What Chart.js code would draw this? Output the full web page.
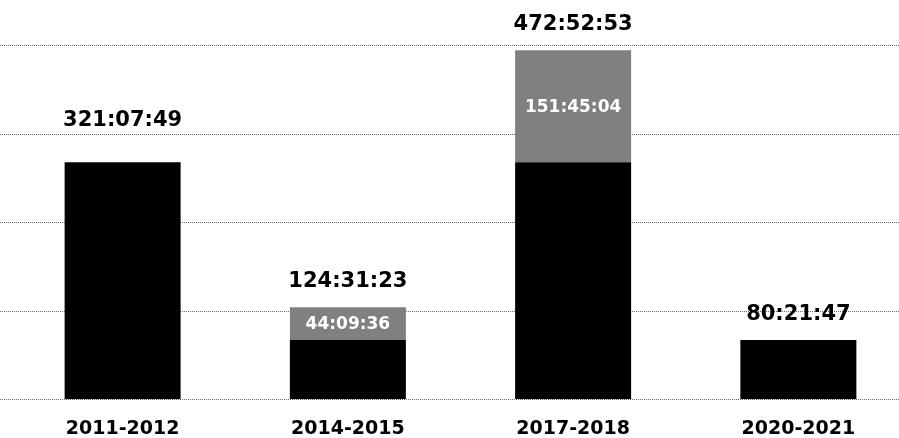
<!DOCTYPE html>
<html>
<head>
<meta charset="utf-8">
<script src="https://cdn.jsdelivr.net/npm/chart.js@4/dist/chart.umd.min.js"></script>
<style>
  html, body { margin: 0; padding: 0; background: #fff; overflow: hidden; }
  #wrap { width: 899px; height: 438px; overflow: hidden; }
</style>
</head>
<body>
<div id="wrap"><canvas id="chart" width="920" height="438"></canvas></div>
<script>
const seasons = ['2011-2012', '2014-2015', '2017-2018', '2020-2021'];
const baseTimes = ['321:07:49', '80:21:47', '321:07:49', '80:21:47'];
const extraTimes = [null, '44:09:36', '151:45:04', null];
const totalTimes = ['321:07:49', '124:31:23', '472:52:53', '80:21:47'];
const yTicks = [0, 120, 240, 360, 480];

// hh:mm:ss -> hours
const toHours = t => {
    if (!t) return null;
    const [h, m, s] = t.split(':').map(Number);
    return h + m / 60 + s / 3600;
};

const FONT = '"DejaVu Sans", sans-serif';

const gridLines = {
    id: 'gridLines',
    beforeDatasetsDraw(chart) {
        const { ctx, scales: { y } } = chart;
        ctx.save();
        ctx.strokeStyle = '#6a6a6a';
        ctx.lineWidth = 1;
        ctx.setLineDash([1, 1]);
        yTicks.forEach(v => {
            const py = Math.round(y.getPixelForValue(v)) + 0.5;
            ctx.beginPath();
            ctx.moveTo(0, py);
            ctx.lineTo(chart.width, py);
            ctx.stroke();
        });
        ctx.restore();
    }
};

const barLabels = {
    id: 'barLabels',
    afterDatasetsDraw(chart) {
        const { ctx } = chart;
        const base = chart.getDatasetMeta(0).data;
        const extra = chart.getDatasetMeta(1).data;
        ctx.save();
        ctx.textAlign = 'center';
        seasons.forEach((s, i) => {
            const top = extraTimes[i] ? extra[i] : base[i];
            ctx.fillStyle = '#000';
            ctx.font = 'bold 21px ' + FONT;
            ctx.textBaseline = 'bottom';
            ctx.fillText(totalTimes[i], top.x, top.y - (i === 0 ? 31 : 15));
            if (extraTimes[i]) {
                const seg = extra[i];
                ctx.fillStyle = '#fff';
                ctx.font = 'bold 17px ' + FONT;
                ctx.textBaseline = 'middle';
                ctx.fillText(extraTimes[i], seg.x, (seg.y + seg.base) / 2 + 1);
            }
        });
        ctx.restore();
    }
};

new Chart(document.getElementById('chart'), {
    type: 'bar',
    data: {
        labels: seasons,
        datasets: [
            { label: 'base', data: baseTimes.map(toHours), backgroundColor: '#000' },
            { label: 'extra', data: extraTimes.map(toHours), backgroundColor: '#808080' }
        ]
    },
    options: {
        responsive: false,
        animation: false,
        layout: { padding: { left: 2, right: 9, top: 45, bottom: -20 } },
        datasets: { bar: { barPercentage: 1, categoryPercentage: 0.515 } },
        plugins: { legend: { display: false }, tooltip: { enabled: false } },
        scales: {
            x: {
                stacked: true,
                grid: { display: false, drawTicks: false },
                border: { display: false },
                ticks: { color: '#000', font: { family: FONT, weight: 'bold', size: 19 }, padding: 18 }
            },
            y: {
                stacked: true,
                min: 0,
                max: 480,
                grid: { display: false },
                border: { display: false },
                ticks: { display: false, stepSize: 120 }
            }
        }
    },
    plugins: [gridLines, barLabels]
});
</script>
</body>
</html>
